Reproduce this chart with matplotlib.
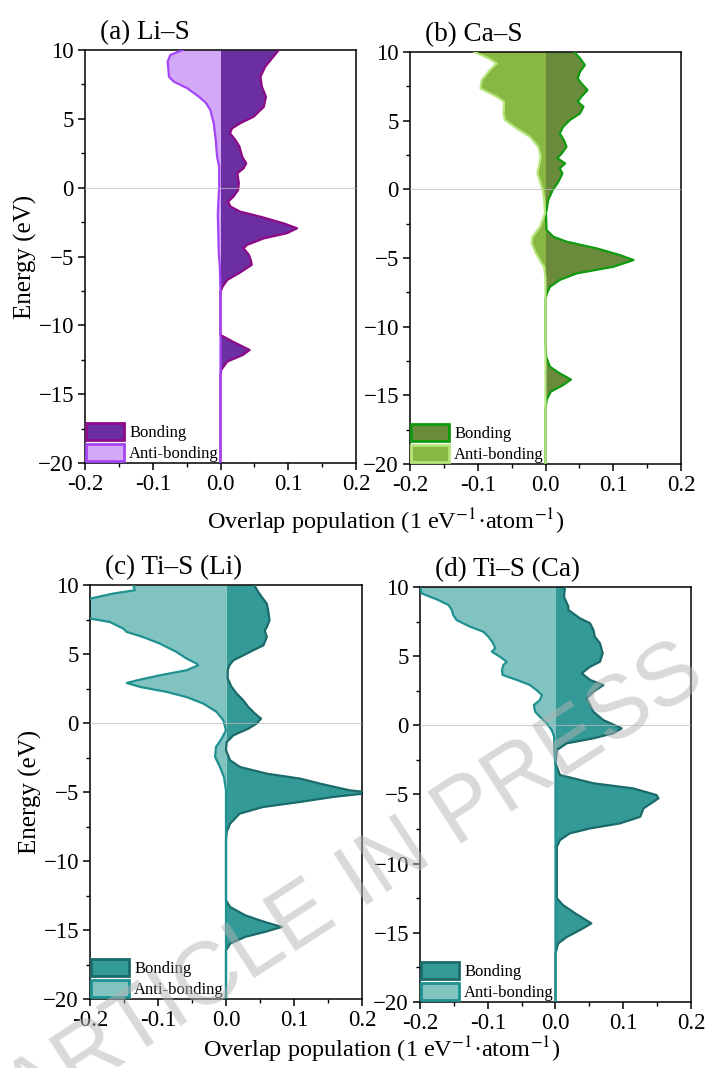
import matplotlib
matplotlib.use("Agg")
import matplotlib.pyplot as plt
import numpy as np
from matplotlib.patches import Patch
from matplotlib.ticker import MultipleLocator, FormatStrFormatter

plt.rcParams["font.family"] = ["Liberation Serif", "DejaVu Serif"]
plt.rcParams["mathtext.fontset"] = "stix"

# (a) Li-S
li_bond_e = [10.0, 8.79, 8.06, 7.34, 6.61, 5.88, 5.16, 4.68, 4.31, 3.95, 3.46, 2.98, 2.25, 1.77,
             1.41, 1.05, 0.32, -0.17, -0.65, -1.02, -1.38, -1.74, -2.11, -2.59, -2.95, -3.31,
             -3.68, -4.16, -4.4, -4.89, -5.3, -5.61, -6.22, -6.7, -7.19, -7.55, -10.7, -11.18,
             -11.79, -12.15, -12.63, -13.24, -13.6, -20.0]
li_bond = [0.086, 0.066, 0.059, 0.061, 0.067, 0.064, 0.049, 0.029, 0.017, 0.014, 0.022, 0.028,
           0.032, 0.038, 0.034, 0.025, 0.027, 0.026, 0.019, 0.011, 0.015, 0.029, 0.059, 0.093,
           0.113, 0.098, 0.064, 0.039, 0.034, 0.042, 0.045, 0.046, 0.027, 0.010, 0.003, 0.0,
           0.0, 0.018, 0.043, 0.033, 0.010, 0.001, 0.0, 0.0]
li_anti_e = [10.0, 9.64, 9.15, 8.06, 7.7, 7.22, 6.61, 6.13, 5.64, 4.68, 3.46, 2.25, 1.53, 0.07,
             -1.86, -4.77, -5.7, -7.5, -20.0]
li_anti = [-0.056, -0.074, -0.078, -0.076, -0.069, -0.049, -0.032, -0.021, -0.015, -0.010,
           -0.007, -0.005, -0.002, -0.002, -0.004, -0.0025, -0.001, 0.0, 0.0]

# (b) Ca-S
ca_bond_e = [10.02, 9.54, 9.05, 8.57, 8.08, 7.72, 7.23, 6.75, 6.38, 6.02, 5.53, 5.05, 4.56, 4.08,
             3.59, 3.1, 2.62, 2.26, 1.89, 1.53, 1.16, 0.55, -0.05, -0.78, -1.75, -2.96, -3.45,
             -3.81, -4.3, -4.79, -5.15, -5.64, -6.12, -6.6, -7.09, -7.57, -8.0, -11.2, -12.2,
             -12.92, -13.4, -13.85, -14.25, -14.74, -15.35, -16.0, -20.0]
ca_bond = [0.042, 0.051, 0.058, 0.051, 0.0475, 0.053, 0.062, 0.053, 0.0475, 0.056, 0.051, 0.036,
           0.026, 0.021, 0.027, 0.031, 0.024, 0.0175, 0.029, 0.021, 0.025, 0.019, 0.0106, 0.004,
           0.0007, 0.0015, 0.0115, 0.031, 0.0755, 0.110, 0.130, 0.100, 0.046, 0.021, 0.0066,
           0.002, 0.0, 0.0, 0.001, 0.0066, 0.021, 0.0376, 0.026, 0.0076, 0.0015, 0.0, 0.0]
ca_anti_e = [10.02, 9.54, 9.17, 8.69, 7.96, 7.35, 6.75, 6.38, 5.53, 5.05, 4.44, 3.83, 3.1, 2.37,
             1.16, 0.55, -0.05, -0.78, -1.75, -2.72, -3.45, -3.93, -4.66, -5.39, -5.64, -6.5,
             -20.0]
ca_anti = [-0.1055, -0.084, -0.072, -0.082, -0.094, -0.096, -0.072, -0.061, -0.062, -0.060,
           -0.0425, -0.023, -0.0106, -0.007, -0.012, -0.008, -0.004, -0.002, -0.0007, -0.008,
           -0.019, -0.0204, -0.014, -0.0056, -0.002, 0.0, 0.0]

# (c) Ti-S in the Li system
til_bond_e = [10.0, 9.91, 9.49, 9.13, 8.65, 8.17, 7.44, 6.96, 6.72, 6.23, 5.87, 5.63, 5.27, 4.91,
              4.54, 4.18, 3.82, 3.22, 2.61, 2.13, 1.64, 1.16, 0.68, 0.32, -0.04, -0.41, -0.89,
              -1.38, -1.98, -2.7, -3.19, -3.67, -4.03, -4.39, -4.88, -5.05, -5.36, -5.72, -6.09,
              -6.57, -7.29, -7.9, -8.5, -12.85, -13.33, -13.93, -14.42, -14.78, -15.14, -15.5,
              -15.99, -16.47, -20.0]
til_bond = [0.042, 0.0426, 0.0475, 0.0525, 0.060, 0.062, 0.064, 0.060, 0.057, 0.060, 0.057,
            0.055, 0.040, 0.0255, 0.0108, 0.005, 0.0025, 0.0025, 0.0083, 0.0157, 0.0255, 0.0328,
            0.0426, 0.0515, 0.045, 0.0328, 0.0108, 0.001, 0.0, 0.006, 0.0206, 0.060, 0.109,
            0.138, 0.182, 0.215, 0.157, 0.109, 0.054, 0.020, 0.006, 0.001, 0.0, 0.0, 0.006,
            0.028, 0.057, 0.082, 0.057, 0.028, 0.006, 0.0, 0.0]
til_anti_e = [10.0, 9.91, 9.62, 9.38, 9.01, 8.5, 8.0, 7.57, 7.32, 6.84, 6.6, 6.23, 5.75, 5.14,
              4.67, 4.3, 4.18, 3.82, 3.46, 3.09, 2.9, 2.61, 2.25, 1.88, 1.4, 0.8, 0.2, -0.53,
              -1.13, -1.74, -2.46, -3.19, -3.91, -4.88, -20.0]
til_anti = [-0.136, -0.136, -0.134, -0.166, -0.200, -0.220, -0.220, -0.200, -0.171, -0.151,
            -0.146, -0.122, -0.097, -0.0725, -0.058, -0.043, -0.041, -0.058, -0.097, -0.131,
            -0.146, -0.126, -0.087, -0.058, -0.033, -0.0137, -0.004, 0.0, -0.0064, -0.0147,
            -0.016, -0.0088, -0.003, 0.0, 0.0]

# (d) Ti-S in the Ca system
tic_bond_e = [10.02, 9.3, 8.58, 8.34, 7.74, 7.38, 6.89, 6.41, 5.93, 5.21, 4.6, 4.24, 3.76, 3.28,
              2.91, 2.43, 1.95, 1.47, 0.98, 0.38, -0.22, -0.58, -0.94, -1.3, -1.79, -2.75, -3.59,
              -4.19, -4.56, -5.04, -5.28, -6.0, -6.61, -7.09, -7.45, -7.81, -8.29, -8.78, -12.5,
              -12.99, -13.59, -14.32, -14.8, -15.29, -15.76, -16.49, -20.0]
tic_bond = [0.014, 0.0125, 0.019, 0.019, 0.036, 0.051, 0.056, 0.058, 0.0657, 0.0696, 0.0657,
            0.051, 0.0387, 0.051, 0.0706, 0.056, 0.046, 0.051, 0.056, 0.0706, 0.0977, 0.085,
            0.056, 0.0165, 0.002, 0.0, 0.0066, 0.056, 0.115, 0.149, 0.152, 0.130, 0.125, 0.095,
            0.051, 0.021, 0.0066, 0.002, 0.002, 0.011, 0.029, 0.053, 0.036, 0.017, 0.004, 0.0,
            0.0]
tic_anti_e = [10.02, 9.54, 9.06, 8.7, 8.34, 7.98, 7.61, 7.13, 6.77, 6.41, 5.93, 5.57, 5.32, 4.96,
              4.6, 4.36, 4.0, 3.64, 3.28, 2.91, 2.55, 2.19, 1.83, 1.47, 0.98, 0.62, 0.14, -0.34,
              -0.82, -1.79, -3.0, -20.0]
tic_anti = [-0.200, -0.1975, -0.173, -0.158, -0.153, -0.151, -0.146, -0.126, -0.1066, -0.099,
            -0.092, -0.089, -0.094, -0.082, -0.072, -0.077, -0.079, -0.078, -0.057, -0.0376,
            -0.028, -0.020, -0.023, -0.032, -0.030, -0.023, -0.013, -0.0056, -0.002, -0.0018,
            0.0, 0.0]

panels = [
    ("(a) Li\u2013S", li_bond_e, li_bond, li_anti_e, li_anti,
     "#6c2fa2", "#8e0a86", "#d3a8f7", "#a445f5"),
    ("(b) Ca\u2013S", ca_bond_e, ca_bond, ca_anti_e, ca_anti,
     "#6a8b3c", "#109a10", "#89b743", "#b5e57b"),
    ("(c) Ti\u2013S (Li)", til_bond_e, til_bond, til_anti_e, til_anti,
     "#349a97", "#1b6b6b", "#80c3c0", "#1f9191"),
    ("(d) Ti\u2013S (Ca)", tic_bond_e, tic_bond, tic_anti_e, tic_anti,
     "#349a97", "#1b6b6b", "#80c3c0", "#1f9191"),
]

W, H = 706, 1068
boxes = [(85, 356, 50, 463), (410, 681, 52, 464), (90, 362, 585, 999), (420, 691, 587, 1002)]

fig = plt.figure(figsize=(W / 100, H / 100), dpi=100)

for i, (title, be, bv, ae, av, bfill, bedge, afill, aedge) in enumerate(panels):
    x0, x1, y0, y1 = boxes[i]
    ax = fig.add_axes([x0 / W, 1 - y1 / H, (x1 - x0) / W, (y1 - y0) / H])

    ax.fill_betweenx(be, 0, bv, color=bfill, lw=0, zorder=2)
    ax.fill_betweenx(ae, 0, av, color=afill, lw=0, zorder=2)
    ax.plot(bv, be, color=bedge, lw=1.6, zorder=3, solid_joinstyle="round")
    ax.plot(av, ae, color=aedge, lw=1.6, zorder=4, solid_joinstyle="round")
    ax.axhline(0, color="#bbbbbb", lw=0.8, alpha=0.7, zorder=5)

    ax.set_xlim(-0.2, 0.2)
    ax.set_ylim(-20, 10)
    ax.xaxis.set_major_locator(MultipleLocator(0.1))
    ax.xaxis.set_minor_locator(MultipleLocator(0.05))
    ax.xaxis.set_major_formatter(FormatStrFormatter("%.1f"))
    ax.yaxis.set_major_locator(MultipleLocator(5))
    ax.yaxis.set_minor_locator(MultipleLocator(2.5))
    ax.tick_params(which="major", direction="out", length=5, width=1.1, labelsize=16.5, pad=3)
    ax.tick_params(which="minor", direction="out", length=3, width=1.0)
    for sp in ax.spines.values():
        sp.set_linewidth(1.1)

    ax.text(0.055, 1.012, title, transform=ax.transAxes, fontsize=19.5, ha="left", va="bottom")
    if i % 2 == 0:
        ax.set_ylabel("Energy (eV)", fontsize=18, labelpad=1)

    handles = [Patch(facecolor=bfill, edgecolor=bedge, lw=2, label="Bonding"),
               Patch(facecolor=afill, edgecolor=aedge, lw=2, label="Anti-bonding")]
    ax.legend(handles=handles, loc="lower left", frameon=False, fontsize=12,
              borderaxespad=0.05, borderpad=0, handlelength=2.3, handleheight=1.25,
              labelspacing=0.15, handletextpad=0.3)

xlab = "Overlap population (1 eV$^{-1}$\u00b7atom$^{-1}$)"
fig.text(386 / W, 1 - 522 / H, xlab, fontsize=17.5, ha="center", va="center")
fig.text(382 / W, 1 - 1050 / H, xlab, fontsize=17.5, ha="center", va="center")

fig.text(355 / W, 1 - 885 / H, "ARTICLE IN PRESS", family=["Liberation Sans", "DejaVu Sans"],
         fontsize=64, rotation=33, color="#b4b4b4", alpha=0.5, ha="center", va="center",
         zorder=10)

fig.savefig("out.png", dpi=100)
